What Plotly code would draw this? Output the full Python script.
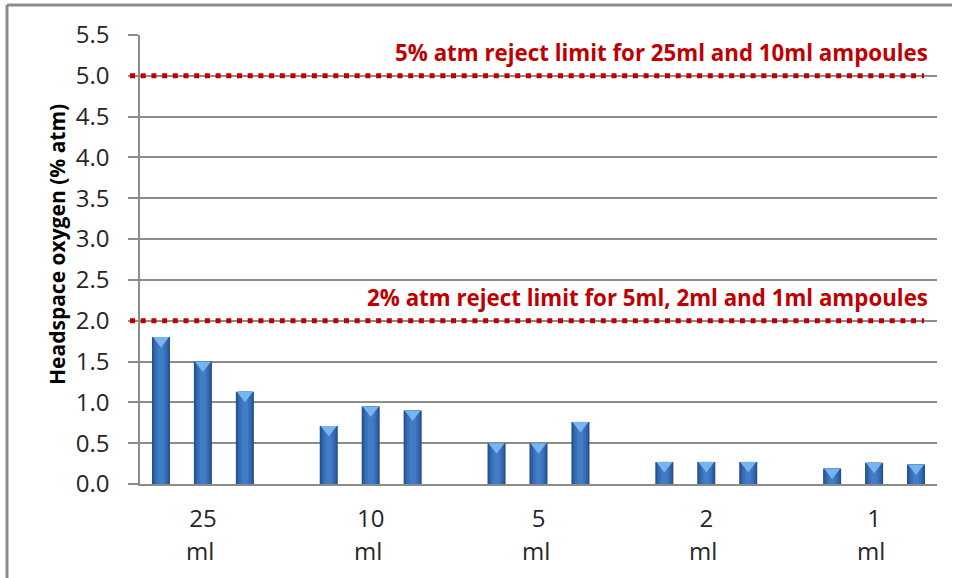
import plotly.graph_objects as go

# Headspace oxygen per ampoule, three samples for each fill volume
volumes = ["25", "10", "5", "2", "1"]
unit = "ml"
samples = [
    [1.80, 1.50, 1.13],
    [0.71, 0.95, 0.90],
    [0.50, 0.50, 0.76],
    [0.27, 0.27, 0.27],
    [0.19, 0.26, 0.24],
]
limit_values = [5.0, 2.0]
limit_labels = [
    "5% atm reject limit for 25ml and 10ml ampoules",
    "2% atm reject limit for 5ml, 2ml and 1ml ampoules",
]
y_title = "Headspace oxygen (% atm)"
y_ticks = [0.0, 0.5, 1.0, 1.5, 2.0, 2.5, 3.0, 3.5, 4.0, 4.5, 5.0, 5.5]

# Each volume group takes three slots plus one empty slot as a spacer
xs, ys = [], []
for g, grp in enumerate(samples):
    for i, v in enumerate(grp):
        xs.append(g * 4 + i)
        ys.append(v)
group_centers = [g * 4 + 1 for g in range(len(volumes))]

W, H = 956, 578
ML, MR, MT, MB = 140, 19, 35, 94
plot_w = W - ML - MR
plot_h = H - MT - MB
px_per_unit = plot_h / 5.5

fig = go.Figure()

# Shaded column bars built from overlaid layers (dark edges, lighter middle)
layers = [
    (0.43, "#24508c"),
    (0.36, "#2f60a2"),
    (0.27, "#386fb8"),
    (0.15, "#417cc6"),
]
for w, c in layers:
    fig.add_trace(go.Bar(
        x=xs, y=ys, width=w, marker=dict(color=c, line=dict(width=0)),
        hoverinfo="skip", showlegend=False,
    ))

# Bevelled cap on top of each column
cap_size = 14
fig.add_trace(go.Scatter(
    x=xs, y=[v - (cap_size / 4) / px_per_unit for v in ys],
    mode="markers",
    marker=dict(symbol="triangle-down", size=cap_size, color="#78b4ee",
                line=dict(width=0)),
    hoverinfo="skip", showlegend=False,
))

# Reject limit lines and their labels
shapes = []
annotations = []
x0_paper = (130 - ML) / plot_w
x1_paper = (924 - ML) / plot_w
for val, txt in zip(limit_values, limit_labels):
    shapes.append(dict(
        type="line", xref="paper", yref="y", x0=x0_paper, x1=x1_paper,
        y0=val, y1=val, line=dict(color="#c00000", width=5, dash="5px,5.7px"),
        layer="above",
    ))
    annotations.append(dict(
        text=txt, xref="paper", yref="y", x=(930 - ML) / plot_w, y=val,
        xanchor="right", yanchor="bottom", yshift=6, showarrow=False,
        font=dict(family="Open Sans", size=22.3, color="#c00000", weight="bold"),
    ))

# Second line of each category label
for xc in group_centers:
    annotations.append(dict(
        text=unit, xref="x", yref="paper", x=xc, y=0, xanchor="center",
        yanchor="middle", yshift=-66, xshift=-3, showarrow=False,
        font=dict(family="Open Sans", size=24, color="#262626"),
    ))

# Vertical axis title
annotations.append(dict(
    text=y_title, xref="paper", yref="paper",
    x=(57 - ML) / plot_w, y=(H - MB - 245) / plot_h,
    xanchor="center", yanchor="middle", textangle=-90, showarrow=False,
    font=dict(family="Open Sans", size=21, color="black", weight="bold"),
))

# Chart frame
frame = dict(color="#8c8c8c", width=3)
shapes.append(dict(type="line", xref="paper", yref="paper",
                   x0=(7 - ML) / plot_w, x1=(7 - ML) / plot_w,
                   y0=(H - MB - 5) / plot_h, y1=-MB / plot_h - 0.01,
                   line=frame, layer="above"))
shapes.append(dict(type="line", xref="paper", yref="paper",
                   x0=(7 - ML) / plot_w, x1=(952 - ML) / plot_w,
                   y0=(H - MB - 5) / plot_h, y1=(H - MB - 5) / plot_h,
                   line=frame, layer="above"))

fig.update_layout(
    width=W, height=H,
    margin=dict(l=ML, r=MR, t=MT, b=MB, pad=0),
    barmode="overlay",
    plot_bgcolor="white", paper_bgcolor="white",
    showlegend=False,
    shapes=shapes,
    annotations=annotations,
    xaxis=dict(
        range=[-0.5, 18.5],
        tickvals=group_centers, ticktext=volumes,
        showgrid=False, zeroline=False,
        showline=True, linecolor="#8c8c8c", linewidth=2,
        ticks="", ticklabelstandoff=12,
        tickfont=dict(family="Open Sans", size=24, color="#262626"),
        fixedrange=True,
    ),
    yaxis=dict(
        range=[0, 5.5],
        tickvals=y_ticks, ticktext=[f"{t:.1f}" for t in y_ticks],
        showgrid=True, gridcolor="#8c8c8c", gridwidth=1.5,
        zeroline=False,
        showline=True, linecolor="#8c8c8c", linewidth=1.5,
        ticks="outside", ticklen=10, tickcolor="#8c8c8c", tickwidth=1.5,
        ticklabelstandoff=14,
        tickfont=dict(family="Open Sans", size=24, color="#262626"),
        fixedrange=True,
    ),
)

fig.write_html("out.html")
